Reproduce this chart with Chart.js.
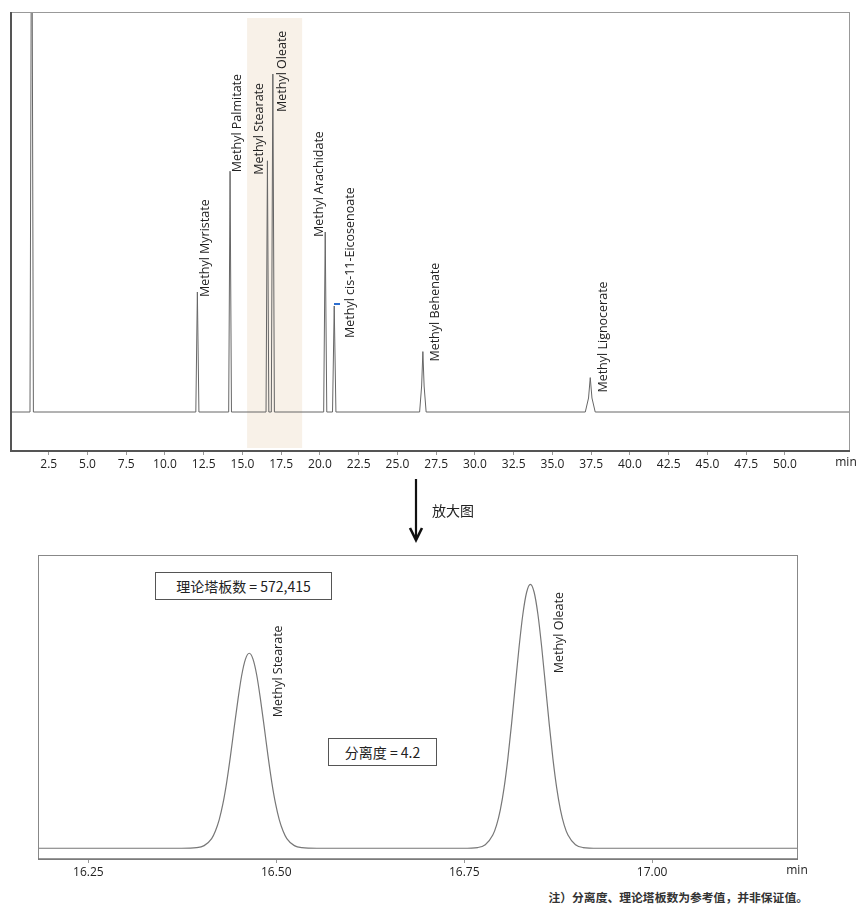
<!DOCTYPE html>
<html lang="zh-CN">
<head>
  <meta charset="UTF-8">
  <title>FAME chromatogram</title>
  <script src="https://cdn.jsdelivr.net/npm/chart.js"></script>
  <style>
    body {
      margin: 0;
      width: 860px;
      height: 905px;
      position: relative;
      overflow: hidden;
      background: #fff;
      font-family: "Open Sans", "Noto Sans CJK SC", sans-serif;
      color: #222;
    }
    .chart-wrap { position: absolute; left: 0; width: 860px; }
    #overview-wrap { top: 0; height: 480px; }
    #zoom-wrap { top: 545px; height: 340px; }
    .info-box {
      position: absolute;
      box-sizing: border-box;
      border: 1px solid #555;
      background: #fff;
      font-family: "Noto Sans CJK SC", sans-serif;
      font-size: 14px;
      line-height: 1;
      display: flex;
      align-items: center;
      justify-content: center;
      color: #222;
    }
    #plates { left: 155px; top: 572px; width: 177px; height: 28px; }
    #resolution { left: 328px; top: 738px; width: 109px; height: 28px; }
    #zoom-label {
      position: absolute; left: 432px; top: 501px;
      font-family: "Noto Sans CJK SC", sans-serif; font-size: 14px; line-height: 18px; color: #222;
    }
    #note {
      position: absolute; right: 52px; top: 889px;
      font-family: "Noto Sans CJK SC", sans-serif; font-size: 11.8px; font-weight: bold; line-height: 16px; color: #333;
    }
    #arrow { position: absolute; left: 408px; top: 476px; }
  </style>
</head>
<body>
  <div class="chart-wrap" id="overview-wrap"><canvas id="overviewChart"></canvas></div>
  <div class="chart-wrap" id="zoom-wrap"><canvas id="zoomChart"></canvas></div>

  <svg id="arrow" width="16" height="68" viewBox="0 0 16 68">
    <line x1="8" y1="3" x2="8" y2="63" stroke="#111" stroke-width="2.2"/>
    <polyline points="2,52 8,64 14,52" fill="none" stroke="#111" stroke-width="2.6"/>
  </svg>
  <div id="zoom-label">放大图</div>
  <div class="info-box" id="plates">理论塔板数 = 572,415</div>
  <div class="info-box" id="resolution">分离度 = 4.2</div>
  <div id="note">注）分离度、理论塔板数为参考值，并非保证值。</div>

  <script>
    // ---- overview chromatogram (min, relative signal) ----
    const overviewTime = [0, 1.29, 1.40, 1.51, 11.99, 12.09, 12.19, 14.11, 14.20, 14.29,
      16.52, 16.61, 16.70, 16.86, 16.96, 17.06, 20.24, 20.34, 20.44, 20.81, 20.92, 21.03,
      26.43, 26.56, 26.64, 26.72, 26.85, 37.12, 37.33, 37.44, 37.55, 37.76, 54.2];
    const overviewSignal = [0, 0, 150, 0, 0, 30.0, 0, 0, 60.2, 0,
      0, 62.8, 0, 0, 84.5, 0, 0, 45.0, 0, 0, 26.5, 0,
      0, 6.5, 15.1, 6.5, 0, 0, 3.5, 8.6, 3.5, 0, 0];
    const overviewTicks = [2.5, 5.0, 7.5, 10.0, 12.5, 15.0, 17.5, 20.0, 22.5, 25.0,
      27.5, 30.0, 32.5, 35.0, 37.5, 40.0, 42.5, 45.0, 47.5, 50.0];

    const peakNames = ['Methyl Myristate', 'Methyl Palmitate', 'Methyl Stearate', 'Methyl Oleate',
      'Methyl Arachidate', 'Methyl cis-11-Eicosenoate', 'Methyl Behenate', 'Methyl Lignocerate'];
    const peakTimes = [12.09, 14.20, 16.61, 16.96, 20.34, 20.92, 26.64, 37.44];
    const peakHeights = [30.0, 60.2, 62.8, 84.5, 45.0, 26.5, 15.1, 8.6];

    const markerTime = [21.10];
    const markerSignal = [27.0];
    const highlightRange = [15.3, 18.85];

    // ---- enlarged view 16.2 - 17.2 min ----
    const zoomTime = [16.183, 16.374, 16.394, 16.404, 16.414, 16.419, 16.424, 16.429, 16.434, 16.439,
      16.444, 16.449, 16.454, 16.459, 16.464, 16.469, 16.474, 16.479, 16.484, 16.489,
      16.494, 16.499, 16.504, 16.509, 16.514, 16.524, 16.534, 16.554,
      16.748, 16.768, 16.778, 16.788, 16.793, 16.798, 16.803, 16.808, 16.813, 16.818,
      16.823, 16.828, 16.833, 16.838, 16.843, 16.848, 16.853, 16.858, 16.863, 16.868,
      16.873, 16.878, 16.883, 16.888, 16.898, 16.908, 16.928, 17.194];
    const zoomSignal = [0, 0, 0.2, 0.9, 3.3, 5.9, 9.7, 15.2, 22.5, 31.4,
      41.2, 50.7, 59.0, 64.5, 66.5, 64.5, 59.0, 50.7, 41.2, 31.4,
      22.5, 15.2, 9.7, 5.9, 3.3, 0.9, 0.2, 0,
      0, 0.25, 1.2, 4.5, 7.9, 13.1, 20.6, 30.5, 42.5, 55.7,
      68.7, 79.8, 87.3, 90.0, 87.3, 79.8, 68.7, 55.7, 42.5, 30.5,
      20.6, 13.1, 7.9, 4.5, 1.2, 0.25, 0, 0];
    const zoomTicks = [16.25, 16.50, 16.75, 17.00];

    const zoomPeakNames = ['Methyl Stearate', 'Methyl Oleate'];
    const zoomPeakTimes = [16.464, 16.838];
    const zoomPeakHeights = [66.5, 90.0];

    const labelFont = '12.5px "Open Sans", sans-serif';

    // rotated peak names
    const peakLabels = {
      id: 'peakLabels',
      afterDatasetsDraw(chart, args, opts) {
        const { ctx, scales: { x, y } } = chart;
        ctx.save();
        ctx.font = labelFont;
        ctx.fillStyle = '#222';
        ctx.textAlign = 'left';
        ctx.textBaseline = 'middle';
        opts.names.forEach((name, i) => {
          const px = x.getPixelForValue(opts.times[i]) + opts.dx[i];
          const py = y.getPixelForValue(opts.heights[i]) + opts.dy[i];
          ctx.save();
          ctx.translate(px, py);
          ctx.rotate(-Math.PI / 2);
          ctx.fillText(name, 0, 0);
          ctx.restore();
        });
        ctx.restore();
      }
    };

    // shaded band behind the stearate/oleate pair
    const band = {
      id: 'band',
      beforeDatasetsDraw(chart, args, opts) {
        if (!opts.range) return;
        const { ctx, chartArea, scales: { x } } = chart;
        const x0 = x.getPixelForValue(opts.range[0]);
        const x1 = x.getPixelForValue(opts.range[1]);
        ctx.save();
        ctx.fillStyle = '#f8f1e8';
        ctx.fillRect(x0, chartArea.top + 6, x1 - x0, chartArea.bottom - chartArea.top - 10);
        ctx.restore();
      }
    };

    // frame + "min" unit label
    const frame = {
      id: 'frame',
      afterDraw(chart, args, opts) {
        const { ctx, chartArea: { left, right, top, bottom } } = chart;
        ctx.save();
        ctx.strokeStyle = opts.color;
        ctx.lineWidth = 1;
        ctx.strokeRect(left + 0.5, top + 0.5, right - left - 1, bottom - top - 1);
        ctx.strokeStyle = opts.heavyColor;
        ctx.lineWidth = opts.heavyWidth;
        ctx.beginPath();
        if (opts.heavyLeft) { ctx.moveTo(left + 1, top); ctx.lineTo(left + 1, bottom); }
        ctx.moveTo(left, bottom - 1);
        ctx.lineTo(right, bottom - 1);
        ctx.stroke();
        ctx.font = opts.unitFont;
        ctx.fillStyle = '#222';
        ctx.textAlign = 'center';
        ctx.textBaseline = 'middle';
        ctx.fillText('min', right + opts.unitDx, bottom + opts.unitDy);
        ctx.restore();
      }
    };

    Chart.register(peakLabels, band, frame);

    const toPoints = (xs, ys) => xs.map((t, i) => ({ x: t, y: ys[i] }));

    new Chart(document.getElementById('overviewChart'), {
      type: 'line',
      data: {
        datasets: [{
          data: toPoints(overviewTime, overviewSignal),
          borderColor: '#666',
          borderWidth: 1,
          pointRadius: 0,
          tension: 0
        }, {
          data: toPoints(markerTime, markerSignal),
          showLine: false,
          pointStyle: 'line',
          pointRadius: 3,
          borderColor: '#2d6fd0',
          borderWidth: 2
        }]
      },
      options: {
        responsive: true,
        maintainAspectRatio: false,
        animation: false,
        events: [],
        layout: { padding: { left: 10, right: 10, top: 12, bottom: 0 } },
        scales: {
          x: {
            type: 'linear',
            min: 0,
            max: 54.2,
            afterBuildTicks: scale => { scale.ticks = overviewTicks.map(v => ({ value: v })); },
            afterFit: scale => { scale.height = 28; },
            grid: { drawOnChartArea: false, tickLength: 3, color: '#999' },
            border: { display: false },
            ticks: {
              autoSkip: false,
              maxRotation: 0,
              padding: 2,
              color: '#222',
              font: { family: '"Open Sans", sans-serif', size: 12 },
              callback: v => v.toFixed(1)
            }
          },
          y: { display: false, min: -10, max: 100 }
        },
        plugins: {
          legend: { display: false },
          tooltip: { enabled: false },
          peakLabels: {
            names: peakNames, times: peakTimes, heights: peakHeights,
            dx: [8, 7, -8, 10, -6, 16, 13, 13],
            dy: [5, 1, 14, 38, 5, 32, 10, 15]
          },
          band: { range: highlightRange },
          frame: { color: '#999', heavyColor: '#555', heavyWidth: 2, heavyLeft: true,
                   unitFont: '12px "Open Sans", sans-serif', unitDx: -4, unitDy: 11 }
        }
      }
    });

    new Chart(document.getElementById('zoomChart'), {
      type: 'line',
      data: {
        datasets: [{
          data: toPoints(zoomTime, zoomSignal),
          borderColor: '#777',
          borderWidth: 1.2,
          pointRadius: 0,
          cubicInterpolationMode: 'monotone'
        }]
      },
      options: {
        responsive: true,
        maintainAspectRatio: false,
        animation: false,
        events: [],
        layout: { padding: { left: 38, right: 62, top: 10, bottom: 0 } },
        scales: {
          x: {
            type: 'linear',
            min: 16.183,
            max: 17.194,
            afterBuildTicks: scale => { scale.ticks = zoomTicks.map(v => ({ value: v })); },
            afterFit: scale => { scale.height = 25; },
            grid: { drawOnChartArea: false, tickLength: 3, color: '#999' },
            border: { display: false },
            ticks: {
              autoSkip: false,
              maxRotation: 0,
              padding: 2,
              color: '#222',
              font: { family: '"Open Sans", sans-serif', size: 12 },
              callback: v => v.toFixed(2)
            }
          },
          y: { display: false, min: -4, max: 100 }
        },
        plugins: {
          legend: { display: false },
          tooltip: { enabled: false },
          peakLabels: {
            names: zoomPeakNames, times: zoomPeakTimes, heights: zoomPeakHeights,
            dx: [29, 29], dy: [64, 89]
          },
          band: { range: null },
          frame: { color: '#888', heavyColor: '#777', heavyWidth: 1.5, heavyLeft: false,
                   unitFont: '12px "Open Sans", sans-serif', unitDx: -1, unitDy: 11 }
        }
      }
    });
  </script>
</body>
</html>
